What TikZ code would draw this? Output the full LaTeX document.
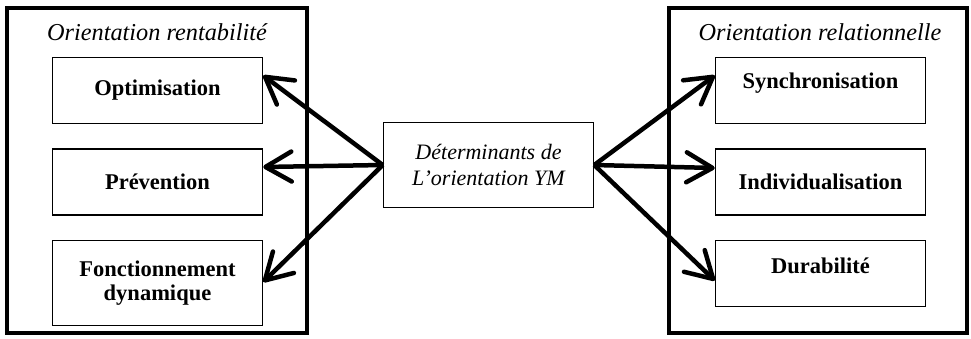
\documentclass[tikz,border=0pt]{standalone}
\usepackage{fontspec}
\setmainfont{Liberation Serif}
\usetikzlibrary{positioning, arrows.meta}
\tikzset{
  box/.style  = {draw, line width=1.5pt, minimum width=210pt, minimum height=66pt,
                 align=center, inner sep=2pt, font=\fontsize{22.5}{24}\selectfont\bfseries},
  det/.style  = {draw, line width=1.5pt, minimum width=210pt, minimum height=85pt,
                 align=center, font=\fontsize{22}{26}\selectfont\itshape},
  zone/.style = {draw, line width=4pt},
  ttl/.style  = {anchor=base, inner sep=0pt, font=\fontsize{24.3}{26}\selectfont\itshape},
  fl/.style   = {-{Straight Barb[length=26pt, width=30pt, round]}, line width=4.5pt}
}

\begin{document}
\begin{tikzpicture}[x=1pt, y=-1pt]
  \useasboundingbox (0,0) rectangle (971,338);
  % les deux cadres
  \draw[zone] (7,8) rectangle (307,333);
  \draw[zone] (669,8) rectangle (967,333);
  \node[ttl] (tleft) at (157,40) {Orientation rentabilité};
  \node[ttl] (tright) at (820,40) {Orientation relationnelle};
  % gauche
  \node[box] (opt) at (157.5,90.5) {Optimisation};
  \node[box, below=24pt of opt] (prev) {Prévention};
  \node[box, below=24pt of prev, minimum height=85pt] (fonc) {Fonctionnement\\dynamique};
  % droite
  \node[box] (sync) at (820.5,90.5) {Synchronisation\\[-4pt]};
  \node[box, below=24pt of sync] (indiv) {Individualisation};
  \node[box, below=24pt of indiv] (dur) {Durabilité\\[-8pt]};
  % centre
  \node[det] (det) at (488.5,165) {Déterminants de\\L’orientation YM};
  \draw[fl] (det.west) -- ([yshift=15pt]opt.east);
  \draw[fl] (det.west) -- ([yshift=15pt]prev.east);
  \draw[fl] (det.west) -- ([yshift=1pt]fonc.east);
  \draw[fl] (det.east) -- ([yshift=15pt]sync.west);
  \draw[fl] (det.east) -- ([yshift=14pt]indiv.west);
  \draw[fl] (det.east) -- ([yshift=-7pt]dur.west);
\end{tikzpicture}
\end{document}
